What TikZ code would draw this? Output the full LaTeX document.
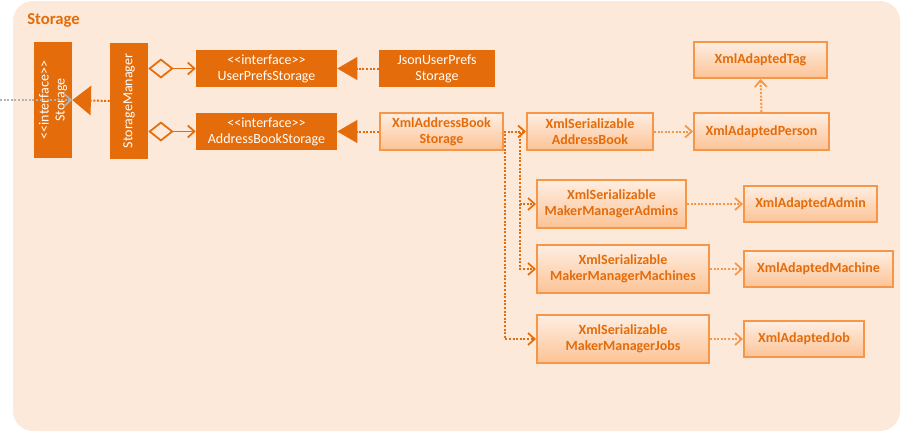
\documentclass[tikz,border=0pt]{standalone}
\usepackage{fontspec}
\setmainfont{Carlito}
\usetikzlibrary{arrows.meta,shapes.geometric}
\definecolor{dorange}{HTML}{E46C0A}
\definecolor{lorange}{HTML}{F79646}
\definecolor{panel}{HTML}{FDE9DA}
\definecolor{ltop}{HTML}{FEEEE2}
\definecolor{lbot}{HTML}{FCC396}
\newcommand{\intf}{{<}{<}interface{>}{>}}
\begin{document}
\begin{tikzpicture}[x=0.75pt,y=-0.75pt,
  darkbox/.style={draw=none,fill=dorange,text=white,align=center,inner sep=0pt,font=\fontsize{10.5}{12}\selectfont},
  lightbox/.style={draw=lorange,line width=1.5pt,top color=ltop,bottom color=lbot,text=dorange,align=center,inner sep=0pt,font=\bfseries\fontsize{10.5}{12}\selectfont},
  dep/.style={draw=dorange,line width=1.5pt,dash pattern=on 1.5pt off 1.2pt,-{Straight Barb[length=5pt,width=9pt,line width=1.3pt]}},
  ldep/.style={dep,draw=lorange},
  real/.style={draw=dorange,line width=1.5pt,dash pattern=on 1.5pt off 1.2pt,-{Triangle[length=14pt,width=22pt,fill=dorange]}},
  realsm/.style={draw=dorange,line width=1.5pt,dash pattern=on 1.5pt off 1.2pt,-{Triangle[length=15pt,width=17pt,fill=dorange]}},
  agg/.style={draw=dorange,line width=1.3pt,{Diamond[open,length=19pt,width=15pt,line width=1.3pt]}-{Straight Barb[length=5pt,width=9pt,line width=1.3pt]}}
]
\useasboundingbox (0,0) rectangle (904,433);
\fill[panel,rounded corners=15pt] (13,1) rectangle (900,431);
\node[anchor=west,text=dorange,inner sep=0pt,font=\bfseries\fontsize{12.5}{14}\selectfont] (title) at (27,20) {Storage};

\node[darkbox,rotate=90,minimum width=87pt,minimum height=28.5pt] (storage) at (53,100) {\intf\\Storage};
\node[darkbox,rotate=90,minimum width=87pt,minimum height=28.5pt] (manager) at (129,101) {StorageManager};
\node[darkbox,minimum width=105.75pt,minimum height=27.75pt] (ups) at (266.5,68.5) {\intf\\UserPrefsStorage};
\node[darkbox,minimum width=105.75pt,minimum height=27.75pt] (abs) at (266.5,131.5) {\intf\\AddressBookStorage};
\node[darkbox,minimum width=87pt,minimum height=27.75pt] (json) at (437,68.5) {JsonUserPrefs\\Storage};
\node[lightbox,minimum width=92.25pt,minimum height=27.75pt] (xabs) at (441.5,131.5) {XmlAddressBook\\Storage};
\node[lightbox,minimum width=94.5pt,minimum height=27.75pt] (xsab) at (590,131.5) {XmlSerializable\\AddressBook};
\node[lightbox,minimum width=101.25pt,minimum height=27.75pt] (person) at (761.5,131.5) {XmlAdaptedPerson};
\node[lightbox,minimum width=99.75pt,minimum height=27pt] (tag) at (760.5,60) {XmlAdaptedTag};
\node[lightbox,minimum width=111.75pt,minimum height=36pt] (admins) at (611.5,204) {XmlSerializable\\MakerManagerAdmins};
\node[lightbox,minimum width=129pt,minimum height=36pt] (machines) at (623,269) {XmlSerializable\\MakerManagerMachines};
\node[lightbox,minimum width=129pt,minimum height=36pt] (jobs) at (623,339) {XmlSerializable\\MakerManagerJobs};
\node[lightbox,minimum width=99.75pt,minimum height=27pt] (admin) at (810.5,204) {XmlAdaptedAdmin};
\node[lightbox,minimum width=111.75pt,minimum height=27pt] (machine) at (818.5,269) {XmlAdaptedMachine};
\node[lightbox,minimum width=90pt,minimum height=27pt] (job) at (804,339) {XmlAdaptedJob};

\coordinate (ext) at (0,100);
\draw[dep,draw=gray!60] (ext) -- (storage.south);
\draw[real] (manager.north) -- (storage.south);
\draw[agg] (manager.south |- ups.west) -- (ups.west);
\draw[agg] (manager.south |- abs.west) -- (abs.west);
\draw[realsm] (json.west) -- (ups.east);
\draw[realsm] (xabs.west) -- (abs.east);
\coordinate (j1) at (520,131.5);
\coordinate (j2) at (505,131.5);
\draw[dep] (xabs.east) -- (xsab.west);
\draw[dep] (j1) |- (admins.west);
\draw[dep] (j1) |- (machines.west);
\draw[dep] (xabs.east) -- (j2) |- (jobs.west);
\draw[ldep] (xsab.east) -- (person.west);
\draw[ldep] (person.north) -- (tag.south);
\draw[ldep] (admins.east) -- (admin.west);
\draw[ldep] (machines.east) -- (machine.west);
\draw[ldep] (jobs.east) -- (job.west);
\end{tikzpicture}
\end{document}
